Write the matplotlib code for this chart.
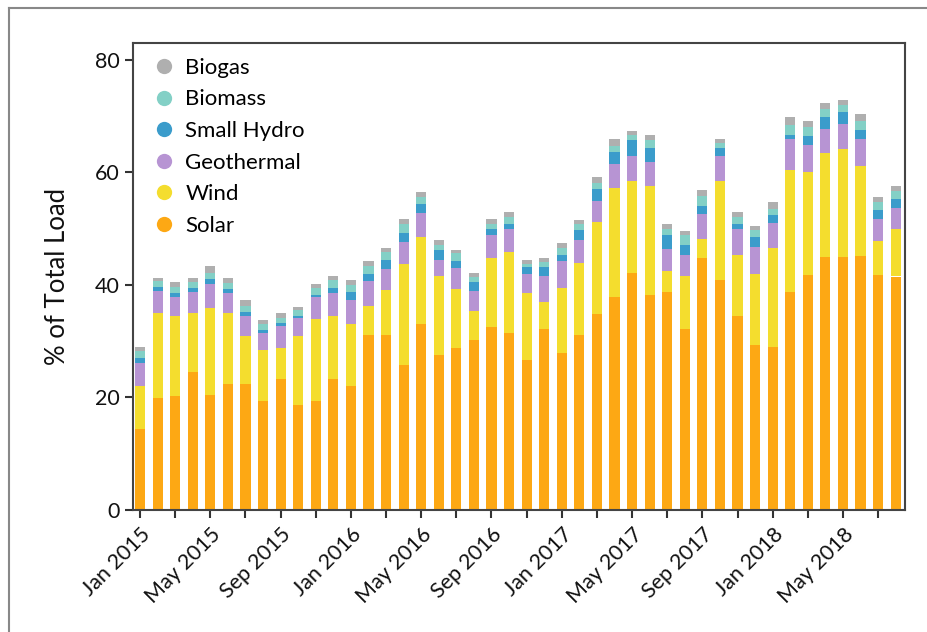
import numpy as np
import matplotlib.pyplot as plt
from matplotlib.lines import Line2D

plt.rcParams['font.family'] = ['Lato', 'DejaVu Sans']

# months Jan 2015 .. Aug 2018
months = ['Jan 2015', 'Feb 2015', 'Mar 2015', 'Apr 2015', 'May 2015', 'Jun 2015',
          'Jul 2015', 'Aug 2015', 'Sep 2015', 'Oct 2015', 'Nov 2015', 'Dec 2015',
          'Jan 2016', 'Feb 2016', 'Mar 2016', 'Apr 2016', 'May 2016', 'Jun 2016',
          'Jul 2016', 'Aug 2016', 'Sep 2016', 'Oct 2016', 'Nov 2016', 'Dec 2016',
          'Jan 2017', 'Feb 2017', 'Mar 2017', 'Apr 2017', 'May 2017', 'Jun 2017',
          'Jul 2017', 'Aug 2017', 'Sep 2017', 'Oct 2017', 'Nov 2017', 'Dec 2017',
          'Jan 2018', 'Feb 2018', 'Mar 2018', 'Apr 2018', 'May 2018', 'Jun 2018',
          'Jul 2018', 'Aug 2018']

solar = [14.4, 19.9, 20.2, 24.5, 20.5, 22.4, 22.4, 19.3, 23.3, 18.7, 19.3, 23.3,
         22.1, 31.1, 31.1, 25.7, 33.1, 27.6, 28.8, 30.2, 32.5, 31.4, 26.7, 32.2,
         27.9, 31.1, 34.8, 37.9, 42.1, 38.2, 38.7, 32.2, 44.7, 40.9, 34.5, 29.3,
         29.0, 38.7, 41.8, 44.9, 44.9, 45.2, 41.8, 41.5]
wind = [7.7, 15.2, 14.3, 10.6, 15.4, 12.7, 8.6, 9.2, 5.5, 12.3, 14.6, 11.2,
        11.0, 5.2, 8.0, 18.0, 15.4, 14.0, 10.5, 5.2, 12.3, 14.5, 11.8, 4.8,
        11.5, 12.8, 16.3, 19.4, 16.3, 19.4, 3.7, 9.4, 3.4, 17.5, 10.9, 12.6,
        17.5, 21.8, 18.3, 18.6, 19.2, 16.0, 6.0, 8.5]
geothermal = [4.0, 3.9, 3.4, 3.7, 4.2, 3.4, 3.5, 2.9, 3.9, 3.2, 4.0, 4.0,
              4.2, 4.4, 3.7, 3.9, 4.2, 2.8, 3.7, 3.5, 4.0, 4.1, 3.4, 4.6,
              4.8, 4.0, 3.9, 4.2, 4.5, 4.3, 4.0, 3.7, 4.5, 4.5, 4.5, 4.9,
              4.5, 5.4, 4.8, 4.3, 4.5, 4.7, 4.0, 3.7]
small_hydro = [0.9, 0.6, 0.6, 0.7, 0.9, 0.8, 0.7, 0.6, 0.6, 0.3, 0.3, 0.9,
               1.5, 1.2, 1.7, 1.6, 1.7, 1.8, 1.2, 1.6, 1.2, 0.9, 1.2, 1.5,
               1.2, 1.8, 2.0, 2.2, 2.9, 2.5, 2.4, 1.8, 1.5, 1.5, 0.9, 1.7,
               1.4, 0.8, 1.5, 2.0, 2.1, 1.6, 1.5, 1.5]
biomass = [1.2, 1.1, 1.2, 1.0, 1.2, 1.1, 1.0, 1.0, 0.9, 1.0, 1.2, 1.5,
           1.2, 1.5, 1.3, 1.6, 1.3, 0.9, 1.4, 0.9, 0.9, 1.2, 0.6, 0.9,
           1.1, 1.1, 1.2, 1.0, 0.8, 1.3, 1.2, 1.7, 1.7, 0.9, 1.2, 1.2,
           1.1, 1.8, 1.7, 1.5, 1.2, 1.7, 1.4, 1.5]
biogas = [0.8, 0.6, 0.8, 0.8, 1.2, 0.9, 1.1, 0.7, 0.9, 0.5, 0.8, 0.7,
          0.8, 0.8, 0.7, 0.9, 0.8, 0.8, 0.6, 0.8, 0.8, 0.8, 0.8, 0.7,
          0.9, 0.8, 1.0, 1.2, 0.8, 1.0, 0.8, 0.8, 1.1, 0.7, 0.9, 0.8,
          1.2, 1.4, 1.1, 1.0, 1.0, 1.1, 0.9, 0.8]

series = [('Solar', solar, '#FDA814'),
          ('Wind', wind, '#F4DD2E'),
          ('Geothermal', geothermal, '#B794D3'),
          ('Small Hydro', small_hydro, '#3B9CCB'),
          ('Biomass', biomass, '#83D0C6'),
          ('Biogas', biogas, '#AFAFAF')]

fig = plt.figure(figsize=(9.28, 6.32), dpi=100)
ax = fig.add_axes([133/928, 1-510/632, (905-133)/928, (510-43)/632])

x = np.arange(len(months))
bottom = np.zeros(len(months))
for name, vals, col in series:
    ax.bar(x, vals, width=0.58, bottom=bottom, color=col, linewidth=0)
    bottom += np.array(vals)

ax.set_xlim(-0.4, len(months) - 1 + 0.53)
ax.set_ylim(0, 83)
ax.set_yticks([0, 20, 40, 60, 80])
ax.set_xticks(x[::2])
ax.set_xticklabels([m if i % 4 == 0 else '' for i, m in enumerate(months)][::2],
                   rotation=45, ha='right', rotation_mode='anchor')
ax.tick_params(axis='both', labelsize=15.5, length=6, width=1.5, color='#333333',
               labelcolor='#111111')
ax.tick_params(axis='x', pad=4)
for s in ax.spines.values():
    s.set_color('#444444')
    s.set_linewidth(1.5)
ax.set_ylabel('% of Total Load', fontsize=18.5, color='#111111', labelpad=18)

handles = [Line2D([], [], marker='o', linestyle='', markersize=11,
                  markerfacecolor=col, markeredgecolor='none', label=name)
           for name, vals, col in series[::-1]]
ax.legend(handles=handles, loc='upper left', bbox_to_anchor=(0.026, 0.968),
          frameon=False, fontsize=16, handlelength=1.0, handletextpad=0.45,
          labelspacing=0.52, borderaxespad=0, borderpad=0)

# outer border of the picture
fig.add_artist(Line2D([9/928, 1], [1-8/632, 1-8/632], color='#888888', lw=1.5))
fig.add_artist(Line2D([9/928, 9/928], [0, 1-8/632], color='#888888', lw=1.5))

fig.savefig('out.png', dpi=100)
